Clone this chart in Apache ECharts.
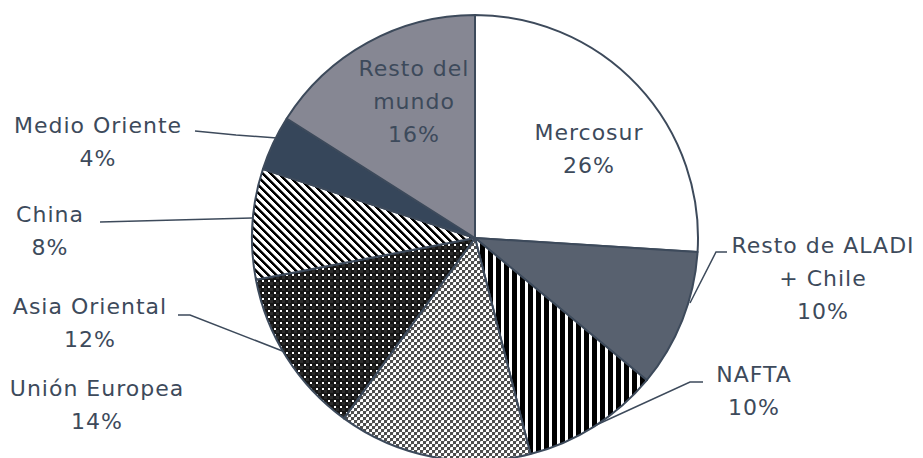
<!DOCTYPE html>
<html>
<head>
<meta charset="utf-8">
<script src="https://cdn.jsdelivr.net/npm/echarts@6/dist/echarts.min.js"></script>
<style>
  html, body { margin: 0; padding: 0; background: #ffffff; }
  #chart { width: 923px; height: 458px; }
  #chart text { letter-spacing: 1px; }
</style>
</head>
<body>
<div id="chart"></div>
<script>
// Destinos de exportación (participación en %)
const regions = ['Mercosur', 'Resto de ALADI\n+ Chile', 'NAFTA', 'Unión Europea',
                 'Asia Oriental', 'China', 'Medio Oriente', 'Resto del\nmundo'];
const shares = [26, 10, 10, 14, 12, 8, 4, 16];

const INK = '#3d4a5b';

// --- fill patterns drawn on small tiles ---
function tile(w, h, draw) {
  const c = document.createElement('canvas');
  c.width = w; c.height = h;
  const g = c.getContext('2d');
  draw(g, w, h);
  return { image: c, repeat: 'repeat' };
}

const vStripes = tile(8, 8, (g) => {
  g.fillStyle = '#ffffff'; g.fillRect(0, 0, 8, 8);
  g.fillStyle = '#000000'; g.fillRect(0, 0, 5, 8);
});

const checker = tile(6, 6, (g) => {
  g.fillStyle = '#ffffff'; g.fillRect(0, 0, 6, 6);
  g.fillStyle = '#4e4e4e';
  g.fillRect(0, 0, 3, 3); g.fillRect(3, 3, 3, 3);
  g.fillStyle = '#b4b4b4';
  g.fillRect(3, 0, 1, 1); g.fillRect(0, 3, 1, 1);
});

const dots = tile(6, 6, (g) => {
  g.fillStyle = '#161616'; g.fillRect(0, 0, 6, 6);
  g.fillStyle = '#2c2c2c'; g.fillRect(0, 0, 3, 3);
  g.fillStyle = '#ffffff'; g.fillRect(4, 4, 2, 2);
});

const diag = tile(8, 8, (g) => {
  g.fillStyle = '#ffffff'; g.fillRect(0, 0, 8, 8);
  g.fillStyle = '#000000';
  for (let y = 0; y < 8; y++) {
    for (let k = 0; k < 3; k++) {
      g.fillRect((y + k) % 8, y, 1, 1);
    }
  }
  g.fillStyle = '#7a7a7a';
  for (let y = 0; y < 8; y++) g.fillRect((y + 3) % 8, y, 1, 1);
});

const fills = ['#ffffff', '#58616f', vStripes, checker, dots, diag, '#36465a', '#868793'];

// label anchor points and leader lines (layout only)
const labelPos = [
  { x: 589, y: 149 },
  { x: 823, y: 278 },
  { x: 754, y: 391 },
  { x: 97,  y: 405 },
  { x: 90,  y: 323 },
  { x: 50,  y: 231 },
  { x: 98,  y: 142 },
  { x: 414, y: 101 }
];
const leaders = [
  null,
  [[690, 303], [716, 252], [727, 252]],
  [[594, 426], [690, 382], [703, 382]],
  null,
  [[285, 352], [190, 315], [178, 315]],
  [[252, 218], [176, 220], [100, 222]],
  [[277, 138], [236, 135], [195, 131]],
  null
];

const chart = echarts.init(document.getElementById('chart'), null, { renderer: 'svg' });

chart.setOption({
  animation: false,
  series: [{
    type: 'pie',
    center: [475, 238],
    radius: 223,
    startAngle: 90,
    clockwise: true,
    avoidLabelOverlap: false,
    itemStyle: { borderColor: INK, borderWidth: 2 },
    label: {
      position: 'outside',
      formatter: (p) => p.name + '\n' + p.value + '%',
      color: INK,
      fontFamily: '"DejaVu Sans", sans-serif',
      fontSize: 22,
      lineHeight: 33,
      align: 'center'
    },
    labelLine: {
      show: true,
      lineStyle: { color: INK, width: 1.5 }
    },
    labelLayout: (params) => {
      const i = params.dataIndex;
      const out = {
        x: labelPos[i].x,
        y: labelPos[i].y,
        align: 'center',
        verticalAlign: 'middle'
      };
      if (leaders[i]) out.labelLinePoints = leaders[i];
      return out;
    },
    data: regions.map((name, i) => ({
      name: name,
      value: shares[i],
      itemStyle: { color: fills[i] },
      labelLine: { show: leaders[i] !== null, lineStyle: { color: INK, width: 1.5 } }
    }))
  }]
});
</script>
</body>
</html>
